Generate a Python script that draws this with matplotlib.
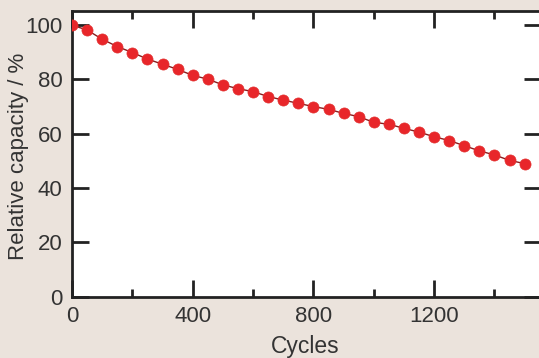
import numpy as np
import matplotlib
matplotlib.use('Agg')
from matplotlib import pyplot as plt
from matplotlib.ticker import MultipleLocator

# cycles and relative capacity (%)
cycles = list(range(0, 1501, 50))
capacity = [100.0, 98.2, 94.8, 92.1, 89.9, 87.5, 85.6, 83.7, 81.5, 80.1,
            78.0, 76.6, 75.5, 73.7, 72.4, 71.2, 70.0, 69.0, 67.5, 66.3,
            64.2, 63.5, 62.0, 60.6, 58.9, 57.5, 55.6, 53.7, 52.2, 50.2, 49.0]

plt.rcParams['font.family'] = ['Liberation Sans', 'DejaVu Sans']

bg = '#ebe3dc'
fig = plt.figure(figsize=(5.39, 3.58), dpi=100, facecolor=bg)
ax = fig.add_axes([0.1336, 0.1712, 0.8700, 0.7981])
ax.set_facecolor('white')

ax.plot(cycles, capacity, color='#8a1c1c', linewidth=1.0, zorder=2)
ax.plot(cycles, capacity, linestyle='none', marker='o', markersize=8,
        markerfacecolor='#e8262a', markeredgecolor='#e23030', markeredgewidth=0.5, zorder=3)

ax.set_xlim(0, 1554)
ax.set_ylim(0, 105.2)
ax.xaxis.set_major_locator(MultipleLocator(400))
ax.xaxis.set_minor_locator(MultipleLocator(200))
ax.yaxis.set_major_locator(MultipleLocator(20))

for s in ax.spines.values():
    s.set_linewidth(2)
    s.set_color('#222222')

ax.tick_params(which='both', direction='in', top=True, right=True, color='#222222', width=2,
               labelsize=16, labelcolor='#333333')
ax.tick_params(which='major', length=12)
ax.tick_params(which='minor', length=6)
ax.tick_params(axis='x', pad=7)
ax.tick_params(axis='y', pad=7)

ax.set_xlabel('Cycles', fontsize=16.5, color='#333333')
ax.set_ylabel('Relative capacity / %', fontsize=16, color='#333333')
ax.xaxis.set_label_coords(0.497, -0.176)
ax.xaxis.label.set_verticalalignment('center')
ax.yaxis.set_label_coords(-0.114, 0.49)
ax.yaxis.label.set_verticalalignment('center')

fig.savefig('out.png', dpi=100, facecolor=bg)
